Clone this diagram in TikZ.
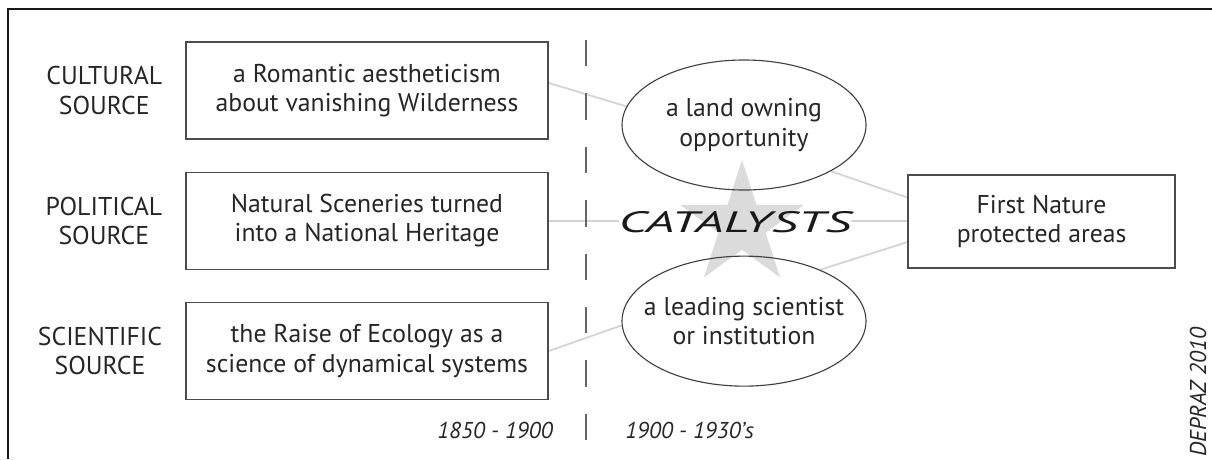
\documentclass[tikz,border=0pt]{standalone}
\usepackage{fontspec}
\setmainfont{PT Sans}
\usetikzlibrary{shapes.geometric, positioning, backgrounds}

\begin{document}
\begin{tikzpicture}[
    source/.style={rectangle, draw=black!70, line width=0.9pt, minimum width=9.05cm, minimum height=2.425cm, inner sep=0pt, align=center, text=black!85, font=\fontsize{18.3}{21}\selectfont},
    tag/.style={inner sep=0pt, align=center, text=black!85, font=\fontsize{18.3}{21}\selectfont},
    catalyst/.style={ellipse, draw=black!75, line width=0.8pt, minimum width=6.1cm, minimum height=3.25cm, inner sep=0pt, label={[tag]center:#1}},
    spark/.style={fill=black!14},
    period/.style={inner sep=0pt, text=black!85, font=\fontsize{16.3}{19}\selectfont\itshape},
    divider/.style={draw=black!60, line width=0.8pt, dash pattern=on 0.66cm off 0.675cm},
    link/.style={draw=black!17, line width=1.3pt},
    frame/.style={draw=black!90, line width=1.4pt}
]
    \useasboundingbox (0,0) rectangle (30.3,-11.475);

    % --- Frame ---
    \draw[frame] (0.2,-11.475) -- (0.2,-0.225) -- (30.3,-0.225);

    % --- Sources ---
    \node[source] (cultural) at (9.175,-2.2625) {a Romantic aestheticism\\about vanishing Wilderness};
    \node[source, below=0.8cm of cultural] (political) {Natural Sceneries turned\\into a National Heritage};
    \node[source, below=0.8cm of political] (scientific) {the Raise of Ecology as a\\science of dynamical systems};

    \node[tag, left=0.575cm of cultural] (culturaltag) {CULTURAL\\SOURCE};
    \node[tag, left=0.575cm of political] (politicaltag) {POLITICAL\\SOURCE};
    \node[tag, left=0.575cm of scientific] (scientifictag) {SCIENTIFIC\\SOURCE};

    % --- Timeline ---
    \coordinate (divtop) at (14.65,-1.0);
    \coordinate (divbot) at (14.65,-11.0);
    \draw[divider] (divtop) -- (divbot);
    \node[period, anchor=east] (early) at (13.825,-10.75) {1850 - 1900};
    \node[period, anchor=west] (late) at (15.625,-10.75) {1900 - 1930's};

    % --- Catalysts ---
    \coordinate (burst) at (18.55,-5.625);
    \fill[spark, shift={(burst)}] (90:1.625)
        \foreach \a in {1,...,4} { -- (\a*72+54:0.62) -- (\a*72+90:1.625) } -- (54:0.62) -- cycle;
    \node[catalyst={a land owning\\opportunity}] (owner) at (18.6,-3.125) {};
    \node[catalyst={a leading scientist\\or institution}, below=1.625cm of owner] (scientist) {};
    \node[inner sep=0pt, text=black!90, font=\fontsize{21}{24}\selectfont\itshape] (word) at (18.375,-5.55) {\scalebox{1.75}[1]{CATALYSTS}};

    % --- Outcome ---
    \node[source, minimum width=6.675cm, minimum height=2.325cm] (areas) at (26.04,-5.54) {First Nature\\protected areas};

    \node[period, rotate=90] (credit) at (29.95,-9.8) {DEPRAZ 2010};

    % --- Connections ---
    \begin{scope}[on background layer]
        \path[link] ([yshift=0.19cm]cultural.east) -- (owner.171);
        \path[link] (political.east) -- (political.east -| word.west);
        \path[link] (political.east -| word.east) -- (political.east -| areas.west);
        \path[link] (scientific.east) -- (scientist.182);
        \path[link] (owner.332) -- ([yshift=0.6cm]areas.west);
        \path[link] (scientist.34) -- ([yshift=-0.51cm]areas.west);
    \end{scope}

\end{tikzpicture}
\end{document}
